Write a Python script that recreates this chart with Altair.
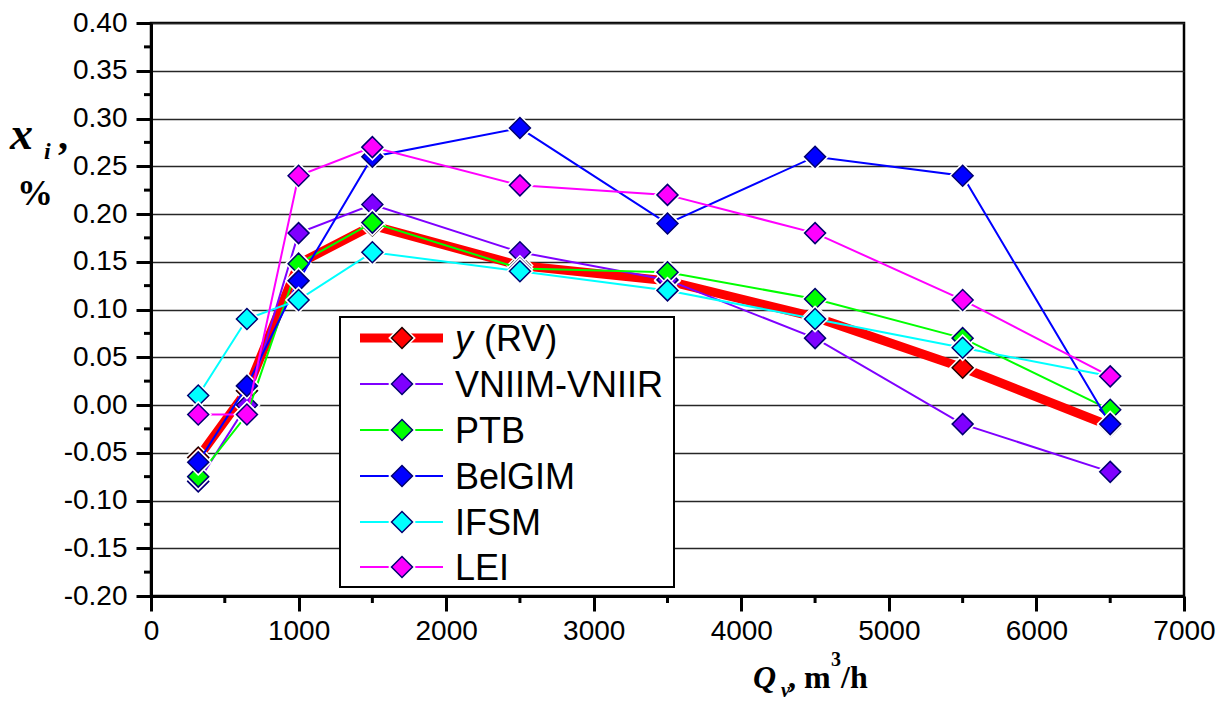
import altair as alt
import pandas as pd

# Flow rate points, m3/h
Q = [320, 650, 1000, 1500, 2500, 3500, 4500, 5500, 6500]

# Deviations x_i, %
RV = [-0.055, 0.015, 0.148, 0.188, 0.146, 0.130, 0.092, 0.039, -0.022]
VNIIM_VNIIR = [-0.080, 0.000, 0.180, 0.210, 0.160, 0.131, 0.070, -0.020, -0.070]
PTB = [-0.075, -0.010, 0.148, 0.191, 0.143, 0.139, 0.111, 0.070, -0.005]
BelGIM = [-0.060, 0.020, 0.130, 0.260, 0.290, 0.190, 0.260, 0.240, -0.020]
IFSM = [0.010, 0.090, 0.110, 0.160, 0.140, 0.120, 0.090, 0.060, 0.030]
LEI = [-0.010, -0.010, 0.240, 0.270, 0.230, 0.220, 0.180, 0.110, 0.030]

series_names = ["y (RV)", "VNIIM-VNIIR", "PTB", "BelGIM", "IFSM", "LEI"]
series_values = [RV, VNIIM_VNIIR, PTB, BelGIM, IFSM, LEI]
series_colors = ["#FF0000", "#7F00FF", "#00FF00", "#0000FF", "#00FFFF", "#FF00FF"]
marker_outline = ["#200000", "#000070", "#000070", "#000070", "#000070", "#000070"]
line_widths = [9, 2, 2, 2, 2, 2]

x_major = [0, 1000, 2000, 3000, 4000, 5000, 6000, 7000]
x_minor = [500, 1500, 2500, 3500, 4500, 5500, 6500]
y_major = [-0.20, -0.15, -0.10, -0.05, 0.00, 0.05, 0.10, 0.15, 0.20, 0.25, 0.30, 0.35, 0.40]
y_minor = [-0.175, -0.125, -0.075, -0.025, 0.025, 0.075, 0.125, 0.175, 0.225, 0.275, 0.325, 0.375]

W, H = 1033, 573
SANS = "Liberation Sans"
SERIF = "Liberation Serif"
MARK_SIZE = 440
HALO_SIZE = 760

xs = alt.Scale(domain=[0, 7000], nice=False, zero=False)
ys = alt.Scale(domain=[-0.2, 0.4], nice=False, zero=False)

x_axis = alt.Axis(values=x_major, format="d", title=None, grid=False,
                  labelFont=SANS, labelFontSize=28, labelColor="black",
                  labelPadding=6, labelFlush=False, labelOverlap=False,
                  tickSize=15, tickWidth=3, tickColor="black",
                  domainWidth=3, domainColor="black")
y_axis = alt.Axis(values=y_major, title=None, grid=True,
                  gridColor="#262626", gridWidth=1.5,
                  labelExpr="(datum.value < -0.0001 ? '-' : '') + format(abs(datum.value), '.2f')",
                  labelFont=SANS, labelFontSize=28, labelColor="black",
                  labelPadding=9, labelFlush=False, labelOverlap=False,
                  tickSize=15, tickWidth=3, tickColor="black",
                  domainWidth=3, domainColor="black")


def X(field):
    return alt.X(f"{field}:Q", scale=xs, axis=x_axis)


def Y(field):
    return alt.Y(f"{field}:Q", scale=ys, axis=y_axis)


layers = []

# minor ticks
xm = pd.DataFrame({"t": x_minor})
layers.append(alt.Chart(xm).mark_rule(color="black", strokeWidth=3).encode(
    x=X("t"), y=alt.value(H), y2=alt.value(H + 7)))
ym = pd.DataFrame({"t": y_minor})
layers.append(alt.Chart(ym).mark_rule(color="black", strokeWidth=3).encode(
    y=Y("t"), x=alt.value(-7), x2=alt.value(0)))

# data series: line, white gap around markers, diamond markers
for name, vals, col, oc, lw in zip(series_names, series_values, series_colors,
                                   marker_outline, line_widths):
    df = pd.DataFrame({"Q": Q, "v": vals})
    layers.append(alt.Chart(df).mark_line(color=col, strokeWidth=lw).encode(
        x=X("Q"), y=Y("v")))
    layers.append(alt.Chart(df).mark_point(shape="diamond", size=HALO_SIZE, filled=True,
                                           fill="white", strokeWidth=0, opacity=1).encode(
        x=X("Q"), y=Y("v")))
    layers.append(alt.Chart(df).mark_point(shape="diamond", size=MARK_SIZE, filled=True,
                                           fill=col, stroke=oc, strokeWidth=1.5,
                                           opacity=1).encode(x=X("Q"), y=Y("v")))

# legend
one = pd.DataFrame({"k": [0]})
LX0, LX1, LY0, LY1 = 189, 523, 294, 564
layers.append(alt.Chart(one).mark_rect(fill="white", stroke="black", strokeWidth=2).encode(
    x=alt.value(LX0), x2=alt.value(LX1), y=alt.value(LY0), y2=alt.value(LY1)))
row_y = [315, 361, 407, 453, 499, 544]
for i, (name, col, oc, lw) in enumerate(zip(series_names, series_colors,
                                            marker_outline, line_widths)):
    ry = row_y[i]
    layers.append(alt.Chart(one).mark_rule(color=col, strokeWidth=lw).encode(
        x=alt.value(209), x2=alt.value(292), y=alt.value(ry)))
    layers.append(alt.Chart(one).mark_point(shape="diamond", size=HALO_SIZE, filled=True,
                                            fill="white", strokeWidth=0, opacity=1).encode(
        x=alt.value(251), y=alt.value(ry)))
    layers.append(alt.Chart(one).mark_point(shape="diamond", size=MARK_SIZE, filled=True,
                                            fill=col, stroke=oc, strokeWidth=1.5,
                                            opacity=1).encode(x=alt.value(251), y=alt.value(ry)))
    if i == 0:
        layers.append(alt.Chart(one).mark_text(text="y", font=SANS, fontSize=36,
                                               fontStyle="italic", align="left",
                                               baseline="alphabetic", color="black").encode(
            x=alt.value(304), y=alt.value(ry + 13)))
        layers.append(alt.Chart(one).mark_text(text="(RV)", font=SANS, fontSize=36,
                                               align="left", baseline="alphabetic",
                                               color="black").encode(
            x=alt.value(333), y=alt.value(ry + 13)))
    else:
        layers.append(alt.Chart(one).mark_text(text=name, font=SANS, fontSize=36,
                                               align="left", baseline="alphabetic",
                                               color="black").encode(
            x=alt.value(304), y=alt.value(ry + 13)))


def label(text, x, y, size, italic=False, bold=True, align="left"):
    kw = dict(text=text, font=SERIF, fontSize=size, align=align,
              baseline="alphabetic", color="black",
              fontWeight="bold" if bold else "normal")
    if italic:
        kw["fontStyle"] = "italic"
    return alt.Chart(one).mark_text(**kw).encode(x=alt.value(x), y=alt.value(y))


# y-axis title: x_i , %
layers.append(label("x", -141, 126, 46, italic=True))
layers.append(label("i", -107, 136, 24, italic=True))
layers.append(label(",", -93, 126, 40))
layers.append(label("%", -116, 182, 36, align="center"))

# x-axis title: Q_v, m3/h
layers.append(label("Q", 602, 665, 32, italic=True))
layers.append(label("v", 630, 674, 20, italic=True))
layers.append(label(", m", 637, 665, 32))
layers.append(label("3", 680, 643, 20))
layers.append(label("/h", 690, 665, 32))

chart = alt.layer(*layers).properties(
    width=W, height=H,
    autosize=alt.AutoSizeParams(type="none"),
    padding={"left": 151, "top": 23, "right": 48, "bottom": 106},
    background="white",
).configure_view(stroke="black", strokeWidth=2.5)

chart.save("out.html", embed_options={"renderer": "svg", "actions": False})
